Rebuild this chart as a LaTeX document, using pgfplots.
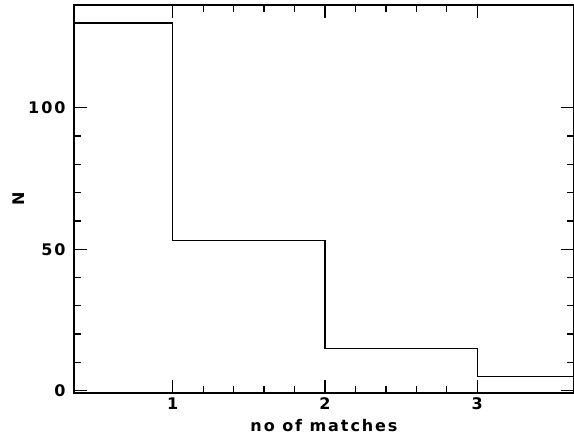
\documentclass[border=0pt]{standalone}
\usepackage{fontspec}
\setmainfont{DejaVu Sans}[BoldFont={DejaVu Sans Bold}]
\newfontfamily\hf[LetterSpace=12]{DejaVu Sans Bold}
\usepackage{pgfplots}
\pgfplotsset{compat=1.18}
\begin{document}
\begin{tikzpicture}[x=1pt,y=1pt]
\begin{axis}[
  scale only axis,
  width=500pt, height=388pt,
  at={(0,0)}, anchor=south west,
  xmin=0.352, xmax=3.635,
  ymin=-0.8, ymax=136.3,
  xtick={1,2,3}, ytick={0,50,100},
  minor x tick num=4, minor y tick num=4,
  tick align=inside,
  major tick length=13pt, minor tick length=7pt,
  every tick/.style={line width=1.3pt, black},
  axis line style={line width=1.6pt},
  /pgf/number format/assume math mode=true,
  ticklabel style={font=\hf\fontsize{16}{18}\selectfont},
  xticklabel style={yshift=-1pt},
  yticklabel style={xshift=-5pt},
  xlabel={\hf\fontsize{16}{18}\selectfont no of matches},
  ylabel={\hf\fontsize{16}{18}\selectfont N},
  xlabel style={at={(axis description cs:0.5,0)}, anchor=center, yshift=-33pt},
  ylabel style={at={(axis description cs:0,0.5)}, anchor=center, yshift=55pt},
  clip=true,
]
\addplot[const plot, line width=1.4pt, black] coordinates {
  (0,130) (1,53) (2,15) (3,5) (4,5)
};
\end{axis}
\pgfresetboundingbox
\path (-74pt,-42pt) rectangle (500pt,393pt);
\end{tikzpicture}
\end{document}
